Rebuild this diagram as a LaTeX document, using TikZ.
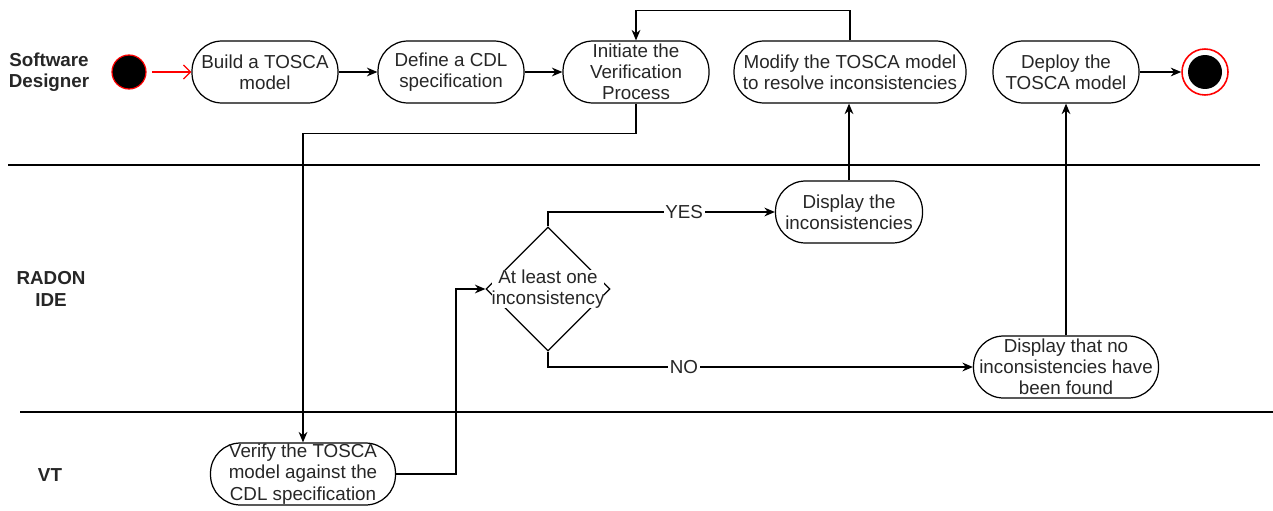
\documentclass[tikz,border=0pt]{standalone}
\usepackage{fontspec}
\setmainfont{Liberation Sans}
\usetikzlibrary{shapes.geometric,arrows.meta}

\begin{document}
\begin{tikzpicture}[x=0.02cm, y=-0.02cm,
		every node/.style={font=\fontsize{10.7}{12.1}\selectfont, text=black!85},
		act/.style={draw, line width=0.7pt, rounded corners=0.6cm, minimum width=2.92cm, minimum height=1.24cm, inner sep=0pt, align=center},
		decision/.style={draw, diamond, aspect=1, line width=0.7pt, minimum width=2.48cm, minimum height=2.48cm, inner sep=0pt},
		lane/.style={font=\fontsize{10.7}{12.1}\selectfont\bfseries, align=center},
		flow/.style={-{Stealth[length=6pt,width=5pt]}, line width=0.7pt},
		guard/.style={fill=white, inner sep=1pt}]
	\useasboundingbox (0,0) rectangle (1273,510);
	
	% --- 泳道 ---
	\draw[line width=0.7pt] (8,165) -- (1260,165);
	\draw[line width=0.7pt] (20,412) -- (1273,412);
	\node[lane] (designer) at (49,72) {Software\\Designer};
	\node[lane] (ide) at (51,289) {RADON\\IDE};
	\node[lane] (vt) at (50,475) {VT};
	
	% --- Software Designer ---
	\node[circle, fill=black, draw=red, line width=0.7pt, minimum size=0.68cm] (start) at (129,72) {};
	\node[act] (build) at (265,72) {Build a TOSCA\\model};
	\node[act] (cdl) at (451,72) {Define a CDL\\specification};
	\node[act] (init) at (636,72) {Initiate the\\Verification\\Process};
	\node[act, minimum width=4.64cm] (modify) at (850,72) {Modify the TOSCA model\\to resolve inconsistencies};
	\node[act] (deploy) at (1066,72) {Deploy the\\TOSCA model};
	\node[circle, draw=red, line width=0.9pt, minimum size=0.92cm,
		path picture={\fill[black] (path picture bounding box.center) circle (0.34cm);}] (stop) at (1205,72) {};
	
	% --- RADON IDE ---
	\node[decision, label={[align=center, fill=white, inner sep=0pt]center:At least one\\inconsistency}] (check) at (548,289) {};
	\node[act, minimum width=2.94cm] (shown) at (849,212) {Display the\\inconsistencies};
	\node[act, minimum width=3.7cm] (clean) at (1066,367) {Display that no\\inconsistencies have\\been found};
	
	% --- VT ---
	\node[act, minimum width=3.7cm] (verify) at (303,474) {Verify the TOSCA\\model against the\\CDL specification};
	
	% --- 连线 ---
	\draw[red, line width=0.7pt, -{Straight Barb[length=4pt]}, shorten <=3pt] (start) -- (build);
	\draw[flow] (build) -- (cdl);
	\draw[flow] (cdl) -- (init);
	\draw[flow] (modify.north) -- ++(0,-30) -| (init.north);
	\draw[flow] (init.south) -- ++(0,30) -| (verify.north);
	\draw[flow] (verify.east) -- ++(60,0) |- (check.west);
	\draw[flow] (check.north) |- node[guard, pos=0.8] {YES} (shown.west);
	\draw[flow] (check.south) |- node[guard, pos=0.66] {NO} (clean.west);
	\draw[flow] (shown.north) -- (shown.north |- modify.south);
	\draw[flow] (clean.north) -- (clean.north |- deploy.south);
	\draw[flow] (deploy) -- (stop);
\end{tikzpicture}
\end{document}
